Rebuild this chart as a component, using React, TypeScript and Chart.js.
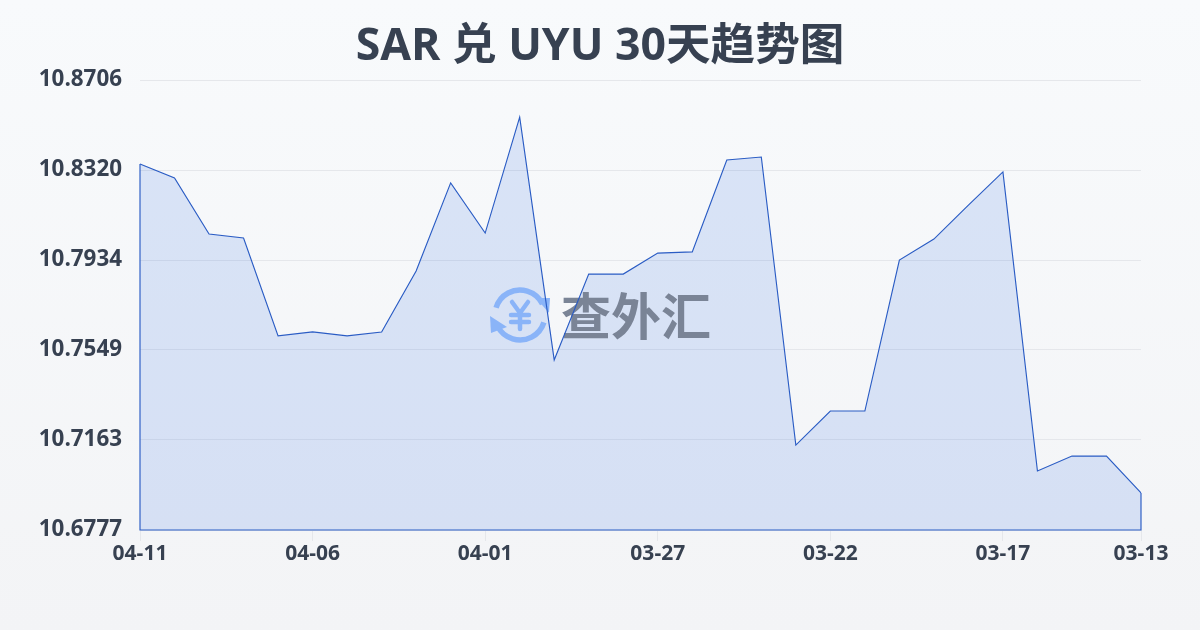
import React, { useEffect, useRef } from "react";
import { Chart, registerables } from "chart.js";

Chart.register(...registerables);

const titleText = "SAR 兑 UYU 30天趋势图";
const watermarkText = "查外汇";
const dates = ["04-11","04-10","04-09","04-08","04-07","04-06","04-05","04-04","04-03","04-02","04-01","03-31","03-30","03-29","03-28","03-27","03-26","03-25","03-24","03-23","03-22","03-21","03-20","03-19","03-18","03-17","03-16","03-15","03-14","03-13"];
const rates = [10.8346,10.8286,10.8046,10.8029,10.7609,10.7626,10.7609,10.7626,10.7887,10.8265,10.8050,10.8547,10.7506,10.7874,10.7874,10.7964,10.7969,10.8363,10.8376,10.7141,10.7287,10.7287,10.7934,10.8024,10.8170,10.8312,10.7030,10.7094,10.7094,10.6936];
const yTicks = [10.8706,10.8320,10.7934,10.7549,10.7163,10.6777];
const xTickLabels = ["04-11","04-06","04-01","03-27","03-22","03-17","03-13"];

const textColor = "#374151";
const lineColor = "#2a5cc4";
const sansFont = '"Open Sans", "Noto Sans CJK SC", sans-serif';

const watermark = {
  id: "watermark",
  beforeDatasetDraw(chart: any) {
    const c = chart.ctx as CanvasRenderingContext2D;
    c.save();
    const cx = 520, cy = 315, r = 25;
    c.strokeStyle = "#8ab4f8";
    c.fillStyle = "#8ab4f8";
    c.lineWidth = 5.5;
    c.lineCap = "butt";
    c.beginPath(); c.arc(cx, cy, r, -2.85, -0.45); c.stroke();
    c.beginPath(); c.arc(cx, cy, r, 0.3, 2.7); c.stroke();
    c.beginPath(); c.moveTo(550, 298); c.lineTo(536, 298); c.lineTo(549, 313); c.closePath(); c.fill();
    c.beginPath(); c.moveTo(490, 316); c.lineTo(507, 327); c.lineTo(491, 333); c.closePath(); c.fill();
    c.lineWidth = 4.5;
    c.lineCap = "round";
    c.beginPath();
    c.moveTo(512, 302); c.lineTo(520, 313); c.lineTo(528, 302);
    c.moveTo(520, 313); c.lineTo(520, 329);
    c.moveTo(511, 315); c.lineTo(529, 315);
    c.moveTo(511, 322); c.lineTo(529, 322);
    c.stroke();
    c.fillStyle = "#7a8496";
    c.font = 'bold 50px "Noto Sans CJK SC"';
    c.textAlign = "left";
    c.textBaseline = "middle";
    c.fillText(watermarkText, 561, 316);
    c.restore();

    const { x, y } = chart.scales;
    c.save();
    c.strokeStyle = lineColor;
    c.lineWidth = 1.15;
    c.beginPath();
    c.moveTo(x.getPixelForValue(0), y.getPixelForValue(rates[0]));
    c.lineTo(x.getPixelForValue(0), y.bottom);
    c.lineTo(x.getPixelForValue(rates.length - 1), y.bottom);
    c.lineTo(x.getPixelForValue(rates.length - 1), y.getPixelForValue(rates[rates.length - 1]));
    c.stroke();
    c.restore();
  },
};

export default function App() {
  const ref = useRef<HTMLCanvasElement>(null);
  useEffect(() => {
    document.body.style.margin = "0";
    const chart = new Chart(ref.current!, {
      type: "line",
      data: {
        labels: dates,
        datasets: [{
          data: rates,
          borderColor: lineColor,
          borderWidth: 1.15,
          backgroundColor: "rgba(37,99,225,0.14)",
          fill: "start",
          tension: 0,
          pointRadius: 0,
        }],
      },
      plugins: [watermark],
      options: {
        responsive: false,
        animation: false,
        layout: { padding: 0 },
        plugins: {
          legend: { display: false },
          tooltip: { enabled: false },
          title: {
            display: true,
            text: titleText,
            color: textColor,
            font: { family: sansFont, size: 44.6, weight: "bold" },
            padding: { top: 21, bottom: 5.5 },
          },
        },
        scales: {
          x: {
            type: "category",
            grid: {
              display: true,
              drawOnChartArea: false,
              drawTicks: true,
              tickLength: 11,
              color: (ctx: any) => (ctx.index !== undefined && xTickLabels.includes(dates[ctx.index]) ? "#e5e7eb" : "rgba(0,0,0,0)"),
            },
            border: { display: false },
            ticks: {
              autoSkip: false,
              maxRotation: 0,
              padding: 0,
              color: textColor,
              font: { family: sansFont, size: 21, weight: "bold" },
              callback(_v: any, i: number) {
                const l = dates[i];
                return xTickLabels.includes(l) ? l : "";
              },
            },
            afterFit(s: any) { s.height = 100; },
          },
          y: {
            min: yTicks[yTicks.length - 1],
            max: yTicks[0],
            afterBuildTicks(s: any) { s.ticks = yTicks.map((v) => ({ value: v })); },
            grid: { color: "#e5e7eb", drawTicks: false },
            border: { display: false },
            ticks: {
              padding: 18,
              color: textColor,
              font: { family: sansFont, size: 22.4, weight: "bold" },
              callback(v: any) { return Number(v).toFixed(4); },
            },
            afterFit(s: any) { s.width = 140; },
          },
          yRightGutter: {
            position: "right",
            grid: { display: false },
            border: { display: false },
            ticks: { display: false },
            afterFit(s: any) { s.width = 59; },
          },
        },
      },
    });
    return () => chart.destroy();
  }, []);
  return (
    <div style={{ width: 1200, height: 630, background: "linear-gradient(180deg, #f8fafc 0%, #f3f4f6 100%)" }}>
      <canvas ref={ref} width={1200} height={630} style={{ display: "block" }} />
    </div>
  );
}
